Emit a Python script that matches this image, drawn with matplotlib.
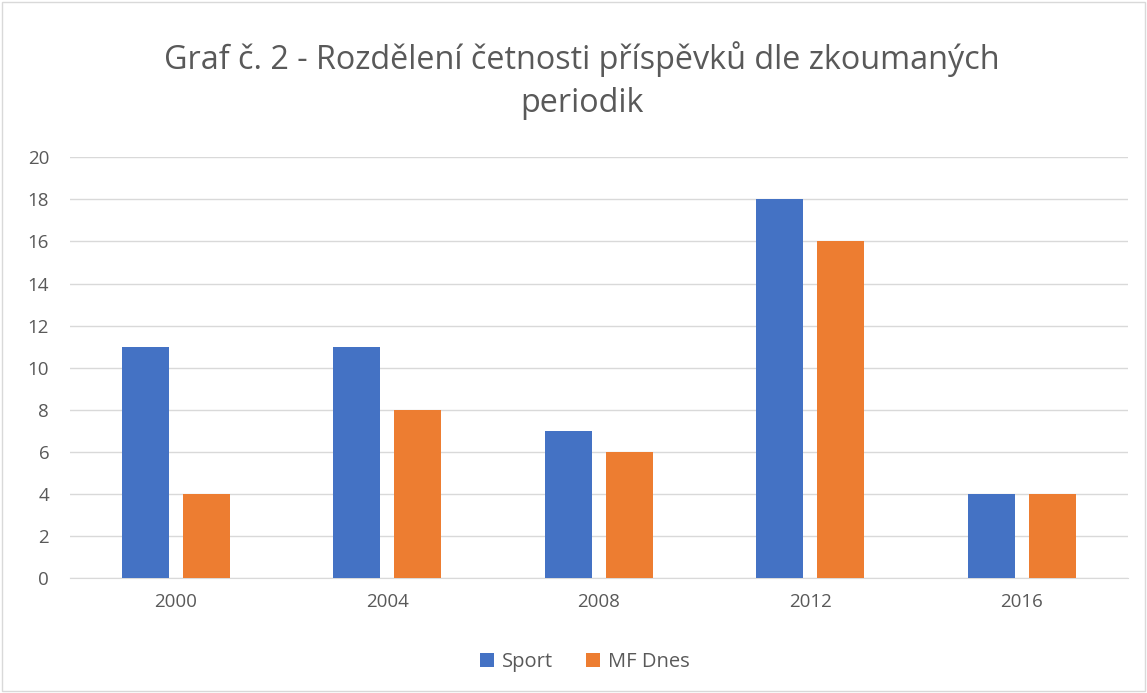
import numpy as np
import matplotlib.pyplot as plt
from matplotlib.patches import Rectangle

roky = ['2000', '2004', '2008', '2012', '2016']
sport = [11, 11, 7, 18, 4]
mf_dnes = [4, 8, 6, 16, 4]

modra = '#4472C4'
oranzova = '#ED7D31'
seda_text = '#595959'

plt.rcParams['font.family'] = ['Open Sans', 'DejaVu Sans']

fig = plt.figure(figsize=(11.47, 6.93), dpi=100)
ax = fig.add_axes([0.061, 0.166, 0.922, 0.607])

x = np.arange(len(roky))
sirka = 0.222
posun = 0.144
ax.bar(x - posun, sport, sirka, color=modra, label='Sport', zorder=3)
ax.bar(x + posun, mf_dnes, sirka, color=oranzova, label='MF Dnes', zorder=3)

ax.set_xlim(-0.5, 4.5)
ax.set_ylim(0, 20)
ax.set_yticks(range(0, 21, 2))
ax.set_xticks(x)
ax.set_xticklabels(roky)
ax.grid(axis='y', color='#D9D9D9', linewidth=1, zorder=0)
for s in ['top', 'right', 'left']:
    ax.spines[s].set_visible(False)
ax.spines['bottom'].set_color('#D9D9D9')
ax.tick_params(axis='both', length=0, labelsize=13.5, colors=seda_text)
ax.tick_params(axis='y', pad=15)
ax.tick_params(axis='x', pad=11)

fig.text(0.507, 0.884, 'Graf č. 2 - Rozdělení četnosti příspěvků dle zkoumaných\nperiodik',
         ha='center', va='center', fontsize=23.3, color=seda_text, linespacing=1.38)

fig.legend(loc='center', bbox_to_anchor=(0.51, 0.045), ncol=2, frameon=False,
           fontsize=14.5, labelcolor=seda_text, handlelength=0.7, handleheight=0.7,
           columnspacing=1.6, handletextpad=0.4)

fig.patches.append(Rectangle((0.002, 0.003), 0.996, 0.994, transform=fig.transFigure,
                             fill=False, edgecolor='#D9D9D9', linewidth=1))

fig.savefig('out.png', dpi=100)
